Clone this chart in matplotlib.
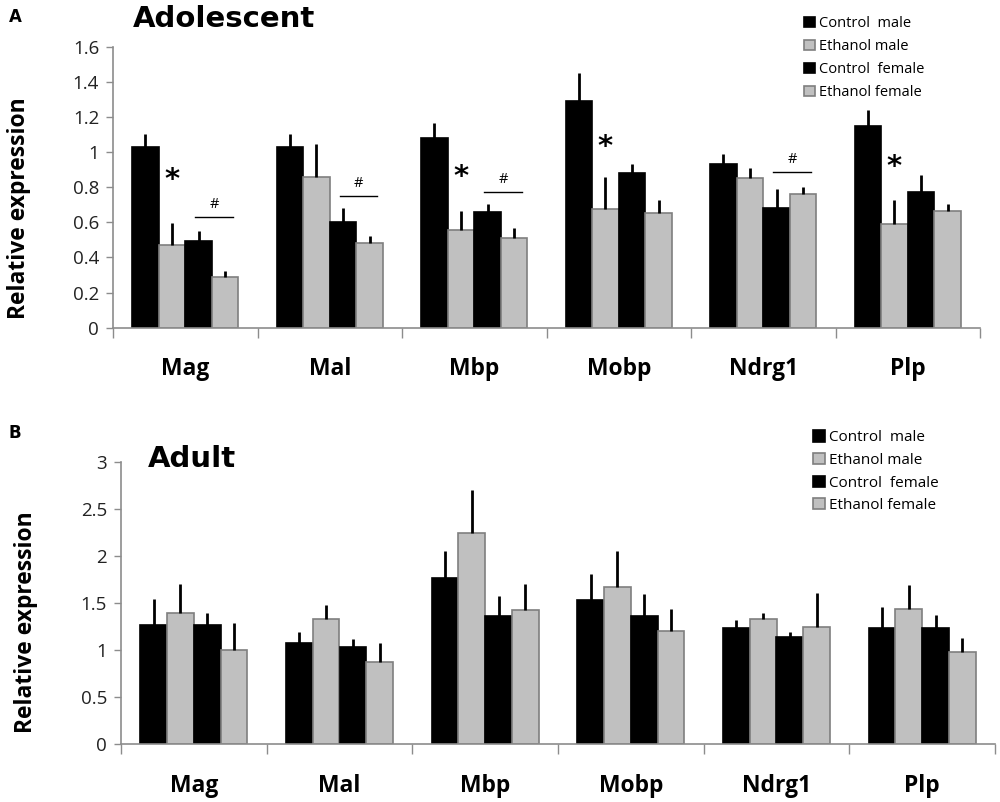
import matplotlib.pyplot as plt
import numpy as np

# -- Data --
genes = ["Mag", "Mal", "Mbp", "Mobp", "Ndrg1", "Plp"]
groups = ["Control  male", "Ethanol male", "Control  female", "Ethanol female"]

# adolescent: means and upper error (top of error bar)
adol_ctrl_m = [1.03, 1.03, 1.08, 1.29, 0.93, 1.15]
adol_eth_m = [0.47, 0.86, 0.555, 0.675, 0.85, 0.59]
adol_ctrl_f = [0.495, 0.60, 0.66, 0.88, 0.68, 0.77]
adol_eth_f = [0.29, 0.48, 0.51, 0.655, 0.76, 0.665]
adol_ctrl_m_top = [1.10, 1.10, 1.165, 1.45, 0.99, 1.24]
adol_eth_m_top = [0.595, 1.045, 0.665, 0.86, 0.91, 0.725]
adol_ctrl_f_top = [0.55, 0.68, 0.705, 0.93, 0.79, 0.87]
adol_eth_f_top = [0.32, 0.52, 0.565, 0.725, 0.80, 0.705]

# adult
adult_ctrl_m = [1.27, 1.08, 1.77, 1.54, 1.235, 1.235]
adult_eth_m = [1.40, 1.33, 2.25, 1.67, 1.33, 1.44]
adult_ctrl_f = [1.27, 1.04, 1.37, 1.37, 1.14, 1.235]
adult_eth_f = [1.00, 0.88, 1.425, 1.21, 1.25, 0.98]
adult_ctrl_m_top = [1.55, 1.19, 2.055, 1.81, 1.325, 1.46]
adult_eth_m_top = [1.71, 1.48, 2.71, 2.055, 1.40, 1.695]
adult_ctrl_f_top = [1.40, 1.12, 1.575, 1.595, 1.19, 1.38]
adult_eth_f_top = [1.29, 1.075, 1.71, 1.44, 1.61, 1.135]

# significance marks (adolescent)
star_genes = ["Mag", "Mbp", "Mobp", "Plp"]
star_y = [0.84, 0.86, 1.03, 0.915]
hash_genes = ["Mag", "Mal", "Mbp", "Ndrg1"]
hash_y = [0.63, 0.748, 0.77, 0.885]

black = "#000000"
grey = "#c0c0c0"
edge_grey = "#7f7f7f"
axis_grey = "#8c8c8c"
font = "Open Sans"

fig = plt.figure(figsize=(10, 8.02), dpi=100)
axA = fig.add_axes([0.113, 0.5914, 0.867, 0.3504])
axB = fig.add_axes([0.121, 0.0719, 0.874, 0.3517])

w = 0.184
offsets = [-1.5 * w, -0.5 * w, 0.5 * w, 1.5 * w]
colors = [black, grey, black, grey]
edges = [black, edge_grey, black, edge_grey]


def draw_panel(ax, means, tops, ymax, ystep, fmt):
    x = np.arange(len(genes))
    for k in range(4):
        m = np.array(means[k])
        t = np.array(tops[k])
        ax.bar(x + offsets[k], m, width=w, color=colors[k], edgecolor=edges[k],
               linewidth=1.2, label=groups[k], zorder=2)
        ax.errorbar(x + offsets[k], m, yerr=[np.zeros_like(m), t - m], fmt="none",
                    ecolor="black", elinewidth=2, capsize=0, zorder=3)
    ax.set_xlim(-0.5, len(genes) - 0.5)
    ax.set_ylim(0, ymax)
    ax.spines[["top", "right"]].set_visible(False)
    ax.spines["left"].set_color(axis_grey)
    ax.spines["bottom"].set_color(axis_grey)
    ax.spines["left"].set_linewidth(1.2)
    ax.spines["bottom"].set_linewidth(1.2)
    ticks = np.arange(0, ymax + 1e-9, ystep)
    ax.set_yticks(ticks)
    ax.set_yticklabels([fmt(v) for v in ticks], fontsize=13.5, family=font, color="#222222")
    ax.tick_params(axis="y", length=5, width=1, color=axis_grey, pad=5)
    ax.set_xticks(np.arange(-0.5, len(genes), 1.0))
    ax.set_xticklabels([])
    ax.tick_params(axis="x", which="major", length=7, width=1, color=axis_grey)
    ax.set_xticks(x, minor=True)
    ax.set_xticklabels(genes, minor=True, fontsize=16.5, fontweight="bold", family=font)
    ax.tick_params(axis="x", which="minor", length=0, pad=21)
    ax.set_ylabel("Relative expression", fontsize=16.5, fontweight="bold", family=font)


def fmt_num(v):
    s = f"{v:.1f}"
    return s[:-2] if s.endswith(".0") else s


draw_panel(axA, [adol_ctrl_m, adol_eth_m, adol_ctrl_f, adol_eth_f],
           [adol_ctrl_m_top, adol_eth_m_top, adol_ctrl_f_top, adol_eth_f_top], 1.6, 0.2, fmt_num)
draw_panel(axB, [adult_ctrl_m, adult_eth_m, adult_ctrl_f, adult_eth_f],
           [adult_ctrl_m_top, adult_eth_m_top, adult_ctrl_f_top, adult_eth_f_top], 3.0, 0.5, fmt_num)

axA.yaxis.set_label_coords(-0.0945, 0.426)
axB.yaxis.set_label_coords(-0.095, 0.434)

# significance marks
for g, yv in zip(star_genes, star_y):
    i = genes.index(g)
    axA.text(i + offsets[1], yv, "*", ha="center", va="center", fontsize=21,
             fontweight="bold", family="DejaVu Sans")
for g, yv in zip(hash_genes, hash_y):
    i = genes.index(g)
    axA.plot([i + 0.07, i + 0.33], [yv, yv], color="black", lw=1)
    axA.text(i + 0.2, yv + 0.03, "#", ha="center", va="bottom", fontsize=10.5, family=font)

# legends
for ax, loc, fs, sp in [(axA, (0.79, 1.13), 10.5, 0.55), (axB, (0.785, 1.135), 11, 0.5)]:
    ax.legend(loc="upper left", bbox_to_anchor=loc, frameon=False,
              handlelength=0.75, handleheight=0.75, handletextpad=0.3,
              labelspacing=sp, borderaxespad=0, prop={"family": font, "size": fs})

# titles and panel letters
fig.text(0.133, 0.966, "Adolescent", fontsize=21, fontweight="bold",
         family="DejaVu Sans", ha="left", va="baseline")
fig.text(0.148, 0.418, "Adult", fontsize=21, fontweight="bold",
         family="DejaVu Sans", ha="left", va="baseline")
fig.text(0.009, 0.972, "A", fontsize=12, fontweight="bold", family="DejaVu Sans", ha="left", va="baseline")
fig.text(0.009, 0.454, "B", fontsize=12, fontweight="bold", family="DejaVu Sans", ha="left", va="baseline")

fig.savefig("out.png", dpi=100)
